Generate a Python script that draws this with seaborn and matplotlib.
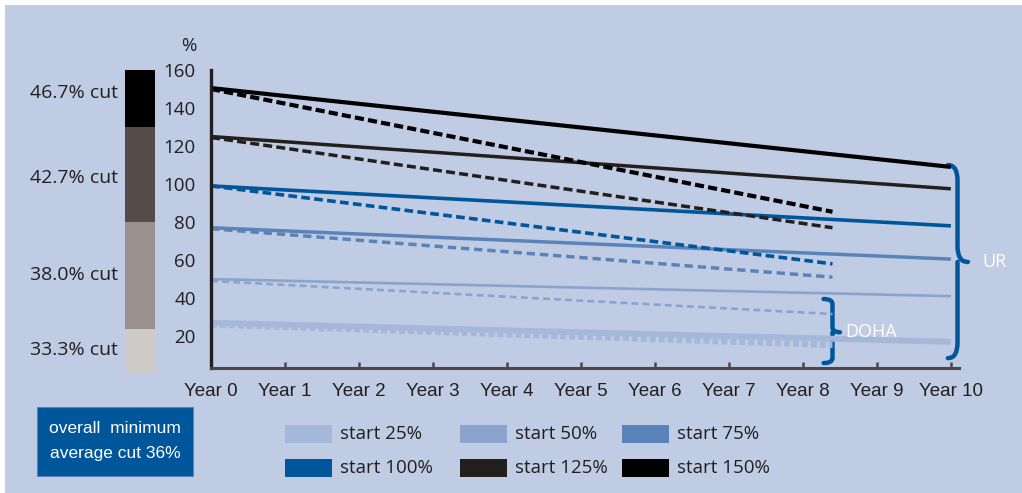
import matplotlib.pyplot as plt
import numpy as np
import pandas as pd
import seaborn as sns
from matplotlib import font_manager
from matplotlib.patches import Rectangle, PathPatch
from matplotlib.path import Path

# Data
years = ["Year 0", "Year 1", "Year 2", "Year 3", "Year 4", "Year 5",
         "Year 6", "Year 7", "Year 8", "Year 9", "Year 10"]
starts = ["start 25%", "start 50%", "start 75%", "start 100%", "start 125%", "start 150%"]
colors = ["#A6B8DA", "#8AA4CE", "#5A84B9", "#00569A", "#231F1D", "#000000"]

ur_x = [0, 10]
ur_25 = [27, 17]
ur_50 = [50, 41]
ur_75 = [77, 60.5]
ur_100 = [99, 78]
ur_125 = [125, 97.5]
ur_150 = [150.5, 109]

doha_x = [0, 8.4]
doha_25 = [26, 15.3]
doha_50 = [49, 31.6]
doha_75 = [76.5, 51]
doha_100 = [99, 58]
doha_125 = [124.5, 77]
doha_150 = [150, 85.4]

band_labels = ["33.3% cut", "38.0% cut", "42.7% cut", "46.7% cut"]
band_edges = [0, 23, 80, 130, 160]
band_colors = ["#CECAC7", "#9A918E", "#554B48", "#000000"]

names = {f.name for f in font_manager.fontManager.ttflist}
narrow = "Liberation Sans Narrow" if "Liberation Sans Narrow" in names else "Liberation Sans"

sns.set_theme(style="white")
plt.rcParams["font.family"] = ["Open Sans", "DejaVu Sans"]
bg = "#BFCCE3"
txt = "#231F20"

fig = plt.figure(figsize=(10.22, 4.93), dpi=100)
fig.patch.set_facecolor("white")
fig.patches.append(Rectangle((5 / 1022, 0), 1, 1 - 5 / 493, transform=fig.transFigure,
                             facecolor=bg, edgecolor="none", zorder=-10))

ax = fig.add_axes([211 / 1022, 1 - 368 / 493, (959 - 211) / 1022, (368 - 70) / 493])
ax.set_facecolor("none")

ur = [ur_25, ur_50, ur_75, ur_100, ur_125, ur_150]
doha = [doha_25, doha_50, doha_75, doha_100, doha_125, doha_150]
widths = [4.3, 1.9, 2.5, 2.6, 2.5, 3.0]
dash_patterns = [(1.0, 0.5), (2.6, 1.6), (2.4, 1.4), (2.4, 1.2), (2.6, 1.2), (2.2, 1.0)]

for i in range(6):
    d = pd.DataFrame({"x": ur_x, "y": ur[i]})
    sns.lineplot(data=d, x="x", y="y", ax=ax, color=colors[i], linewidth=widths[i],
                 solid_capstyle="butt")
for i in range(6):
    d = pd.DataFrame({"x": doha_x, "y": doha[i]})
    sns.lineplot(data=d, x="x", y="y", ax=ax, color=colors[i], linewidth=widths[i],
                 linestyle=(0, dash_patterns[i]), dash_capstyle="butt")

ax.set_xlim(0, 10.11)
ax.set_ylim(3.2, 160)
ax.set_xticks(range(11))
ax.set_xticklabels(years, fontsize=13.5, color=txt, family=[narrow, "DejaVu Sans"])
ax.set_yticks(range(20, 161, 20))
ax.set_yticklabels([str(v) for v in range(20, 161, 20)], fontsize=13.5, color=txt)
ax.tick_params(axis="y", length=0, pad=11)
ax.tick_params(axis="x", direction="in", length=4, width=1.8, color="#4D4546", pad=11,
               bottom=True)
ax.set_xlabel("")
ax.set_ylabel("")
for s in ["top", "right"]:
    ax.spines[s].set_visible(False)
ax.spines["left"].set_color(txt)
ax.spines["left"].set_linewidth(2.4)
ax.spines["bottom"].set_color("#4D4546")
ax.spines["bottom"].set_linewidth(2.2)
ax.text(-0.3, 168, "%", fontsize=13.5, color=txt, ha="center", va="bottom")


def brace(ax, x0, xs, xt, ytop, ymid, ybot, color):
    r = (ytop - ybot) * 0.08
    verts = [(x0, ytop), (xs, ytop), (xs, ytop - r),
             (xs, ymid + r),
             (xs, ymid), (xt, ymid),
             (xs, ymid), (xs, ymid - r),
             (xs, ybot + r),
             (xs, ybot), (x0, ybot)]
    codes = [Path.MOVETO, Path.CURVE3, Path.CURVE3,
             Path.LINETO,
             Path.CURVE3, Path.CURVE3,
             Path.MOVETO, Path.CURVE3,
             Path.LINETO,
             Path.CURVE3, Path.CURVE3]
    p = PathPatch(Path(verts, codes), facecolor="none", edgecolor=color, linewidth=3.2,
                  clip_on=False, capstyle="round")
    ax.add_patch(p)


brace(ax, 9.96, 10.09, 10.23, 110, 59, 8.4, "#00569A")
brace(ax, 8.28, 8.40, 8.50, 39.5, 22, 5.8, "#00569A")
ax.text(10.43, 59, "UR", color="white", fontsize=13, va="center", clip_on=False)
ax.text(8.57, 22, "DOHA", color="white", fontsize=13, va="center", clip_on=False)

# stacked band bar
bax = fig.add_axes([125 / 1022, 1 - 373 / 493, 30 / 1022, 303 / 493])
bax.set_facecolor("none")
heights = np.diff(band_edges)
label_y = [12, 52, 103, 148]
for i in range(4):
    bax.bar(0, heights[i], bottom=band_edges[i], width=1.0, color=band_colors[i],
            edgecolor="none")
    bax.text(-0.75, label_y[i], band_labels[i], ha="right",
             va="center", fontsize=14, color=txt)
bax.set_xlim(-0.5, 0.5)
bax.set_ylim(0, 160)
bax.axis("off")

# note box
fig.patches.append(Rectangle((37 / 1022, 1 - 476 / 493), 156 / 1022, 69 / 493,
                             transform=fig.transFigure, facecolor="#00569A",
                             edgecolor="#5A84B9", linewidth=0.8, zorder=0))
fig.text((37 + 193) / 2 / 1022, 1 - 441 / 493, "overall  minimum\naverage cut 36%",
         ha="center", va="center", color="white", fontsize=12.5, linespacing=1.8,
         family=[narrow, "DejaVu Sans"])

# legend
col_x = [285, 460, 622]
row_y = [434, 468]
for i, name in enumerate(starts):
    cx = col_x[i % 3]
    cy = row_y[i // 3]
    fig.patches.append(Rectangle((cx / 1022, 1 - (cy + 9) / 493), 47 / 1022, 18 / 493,
                                 transform=fig.transFigure, facecolor=colors[i],
                                 edgecolor="none"))
    fig.text((cx + 55) / 1022, 1 - cy / 493, name, ha="left", va="center",
             fontsize=13.5, color=txt)

fig.savefig("out.png", dpi=100, facecolor=fig.get_facecolor())
